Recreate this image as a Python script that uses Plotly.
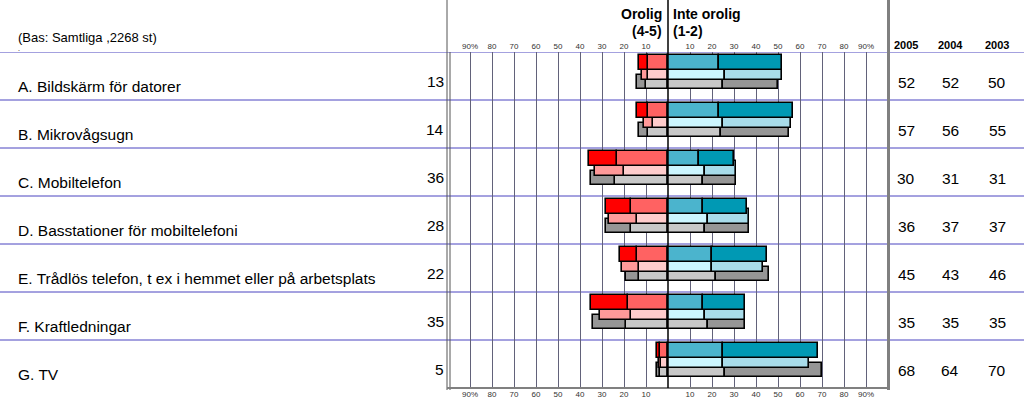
import plotly.graph_objects as go

categories = [
    "A. Bildskärm för datorer",
    "B. Mikrovågsugn",
    "C. Mobiltelefon",
    "D. Basstationer för mobiltelefoni",
    "E. Trådlös telefon, t ex i hemmet eller på arbetsplats",
    "F. Kraftledningar",
    "G. TV",
]
orolig_total = [13, 14, 36, 28, 22, 35, 5]
years = ["2005", "2004", "2003"]
inte_2005 = [52, 57, 30, 36, 45, 35, 68]
inte_2004 = [52, 56, 31, 37, 43, 35, 64]
inte_2003 = [50, 55, 31, 37, 46, 35, 70]

# shares per answer (5 and 4 = orolig, 2 and 1 = inte orolig)
y2005_5 = [4, 5, 13, 11, 8, 17, 1.5]
y2005_4 = [9, 9, 23, 17, 14, 18, 3.5]
y2005_2 = [23, 23, 14, 16, 20, 16, 25]
y2005_1 = [29, 34, 16, 20, 25, 19, 43]

y2004_5 = [3, 4, 13, 13, 8, 14, 0.7]
y2004_4 = [9, 7, 20, 14, 13, 17, 3.3]
y2004_2 = [26, 25, 17, 18, 20, 17, 25]
y2004_1 = [26, 31, 14, 19, 23, 18, 39]

y2003_5 = [4, 4, 11, 11, 6, 15, 1.5]
y2003_4 = [10, 9, 24, 17, 13, 19, 3.5]
y2003_2 = [25, 24, 16, 17, 22, 18, 26]
y2003_1 = [25, 31, 15, 20, 24, 17, 44]

tick_vals = [-90, -80, -70, -60, -50, -40, -30, -20, -10, 10, 20, 30, 40, 50, 60, 70, 80, 90]
tick_text = ["90%", "80", "70", "60", "50", "40", "30", "20", "10",
             "10", "20", "30", "40", "50", "60", "70", "80", "90%"]

W, H = 1024, 409
def px(x):
    return x / W
def py(y):
    return 1 - y / H

series = {
    "2003": dict(data=(y2003_4, y2003_5, y2003_2, y2003_1),
                 colors=("#C8C8C8", "#969696", "#C8C8C8", "#969696"), off=0.125),
    "2004": dict(data=(y2004_4, y2004_5, y2004_2, y2004_1),
                 colors=("#FFCCCC", "#FF9999", "#CCF6FF", "#A8DCEA"), off=-0.075),
    "2005": dict(data=(y2005_4, y2005_5, y2005_2, y2005_1),
                 colors=("#FF6262", "#FF0000", "#4BB4CD", "#0099B4"), off=-0.275),
}

fig = go.Figure()
for yr in ["2003", "2004", "2005"]:
    s = series[yr]
    pos = [i + s["off"] for i in range(len(categories))]
    d4, d5, d2, d1 = s["data"]
    c4, c5, c2, c1 = s["colors"]
    for vals, col, sign in ((d4, c4, -1), (d5, c5, -1), (d2, c2, 1), (d1, c1, 1)):
        fig.add_trace(go.Bar(
            x=[sign * v for v in vals], y=pos, orientation="h",
            width=0.31, marker=dict(color=col, line=dict(color="black", width=1.6)),
            hoverinfo="skip", showlegend=False,
        ))

fig.add_trace(go.Scatter(x=[None], y=[None], xaxis="x2", yaxis="y", showlegend=False))

axis_common = dict(range=[-100, 100], domain=[px(448), px(888)], tickmode="array",
                   tickvals=tick_vals, ticktext=tick_text,
                   tickfont=dict(family="Liberation Sans, Arial, sans-serif", size=8, color="#333"),
                   zeroline=False, ticks="", fixedrange=True)
fig.update_layout(
    width=W, height=H, margin=dict(l=0, r=0, t=0, b=0),
    barmode="relative", bargap=0, showlegend=False,
    plot_bgcolor="white", paper_bgcolor="white",
    xaxis=dict(**axis_common, side="bottom", showgrid=True, gridcolor="#62627A", gridwidth=1),
    xaxis2=dict(**axis_common, side="top", overlaying="x", showgrid=False),
    yaxis=dict(range=[6.5, -0.5], domain=[py(388), py(52)], showticklabels=False,
               showgrid=False, zeroline=False, fixedrange=True),
    font=dict(family="Liberation Sans, Arial, sans-serif", color="black"),
)

shapes = []
# blue row separators
for i in range(len(categories)):
    shapes.append(dict(type="line", xref="paper", yref="y", x0=0, x1=1, y0=i - 0.5, y1=i - 0.5,
                       line=dict(color="#4B45C0", width=1), layer="below"))
# panel borders
shapes.append(dict(type="line", xref="paper", yref="paper", x0=px(447), x1=px(447), y0=py(0), y1=py(390),
                   line=dict(color="#555", width=1)))
shapes.append(dict(type="line", xref="paper", yref="paper", x0=px(450), x1=px(450), y0=py(52), y1=py(390),
                   line=dict(color="#555", width=1)))
shapes.append(dict(type="line", xref="paper", yref="paper", x0=px(888.5), x1=px(888.5), y0=py(0), y1=py(390),
                   line=dict(color="#808080", width=3)))
shapes.append(dict(type="line", xref="paper", yref="paper", x0=px(447), x1=px(889), y0=py(388), y1=py(388),
                   line=dict(color="#808080", width=2)))
# centre line
shapes.append(dict(type="line", xref="x", yref="paper", x0=0, x1=0, y0=py(0), y1=py(388),
                   line=dict(color="black", width=1.5)))
fig.update_layout(shapes=shapes)

ann = []
for i, name in enumerate(categories):
    ann.append(dict(text=name, xref="paper", yref="y", x=px(16), y=i, yshift=-10,
                    xanchor="left", yanchor="middle", showarrow=False, font=dict(size=15.5)))
    ann.append(dict(text=str(orolig_total[i]), xref="paper", yref="y", x=px(446), y=i, yshift=-5,
                    xanchor="right", yanchor="middle", showarrow=False, font=dict(size=15.5)))
    for xc, vals in ((906, inte_2005), (950, inte_2004), (997, inte_2003)):
        ann.append(dict(text=str(vals[i]), xref="paper", yref="y", x=px(xc), y=i, yshift=-6,
                        xanchor="center", yanchor="middle", showarrow=False, font=dict(size=15.5)))
for xc, yr in ((906, "2005"), (950, "2004"), (997, "2003")):
    ann.append(dict(text="<b>" + yr + "</b>", xref="paper", yref="paper", x=px(xc), y=py(45),
                    xanchor="center", yanchor="middle", showarrow=False,
                    font=dict(size=11, family="Liberation Sans Narrow, Arial Narrow, Liberation Sans, sans-serif")))
ann.append(dict(text="(Bas: Samtliga ,2268 st)", xref="paper", yref="paper", x=px(16), y=py(37),
                xanchor="left", yanchor="middle", showarrow=False, font=dict(size=13)))
ann.append(dict(text=".", xref="paper", yref="paper", x=px(16), y=py(54),
                xanchor="left", yanchor="bottom", showarrow=False, font=dict(size=7)))
ann.append(dict(text="<b>Orolig</b>", xref="paper", yref="paper", x=px(664), y=py(14.5),
                xanchor="right", yanchor="middle", showarrow=False, font=dict(size=14)))
ann.append(dict(text="<b>(4-5)</b>", xref="paper", yref="paper", x=px(664), y=py(31),
                xanchor="right", yanchor="middle", showarrow=False, font=dict(size=14)))
ann.append(dict(text="<b>Inte orolig</b>", xref="paper", yref="paper", x=px(671), y=py(14.5),
                xanchor="left", yanchor="middle", showarrow=False, font=dict(size=14)))
ann.append(dict(text="<b>(1-2)</b>", xref="paper", yref="paper", x=px(671), y=py(31),
                xanchor="left", yanchor="middle", showarrow=False, font=dict(size=14)))
fig.update_layout(annotations=ann)

fig.write_html("out.html")
